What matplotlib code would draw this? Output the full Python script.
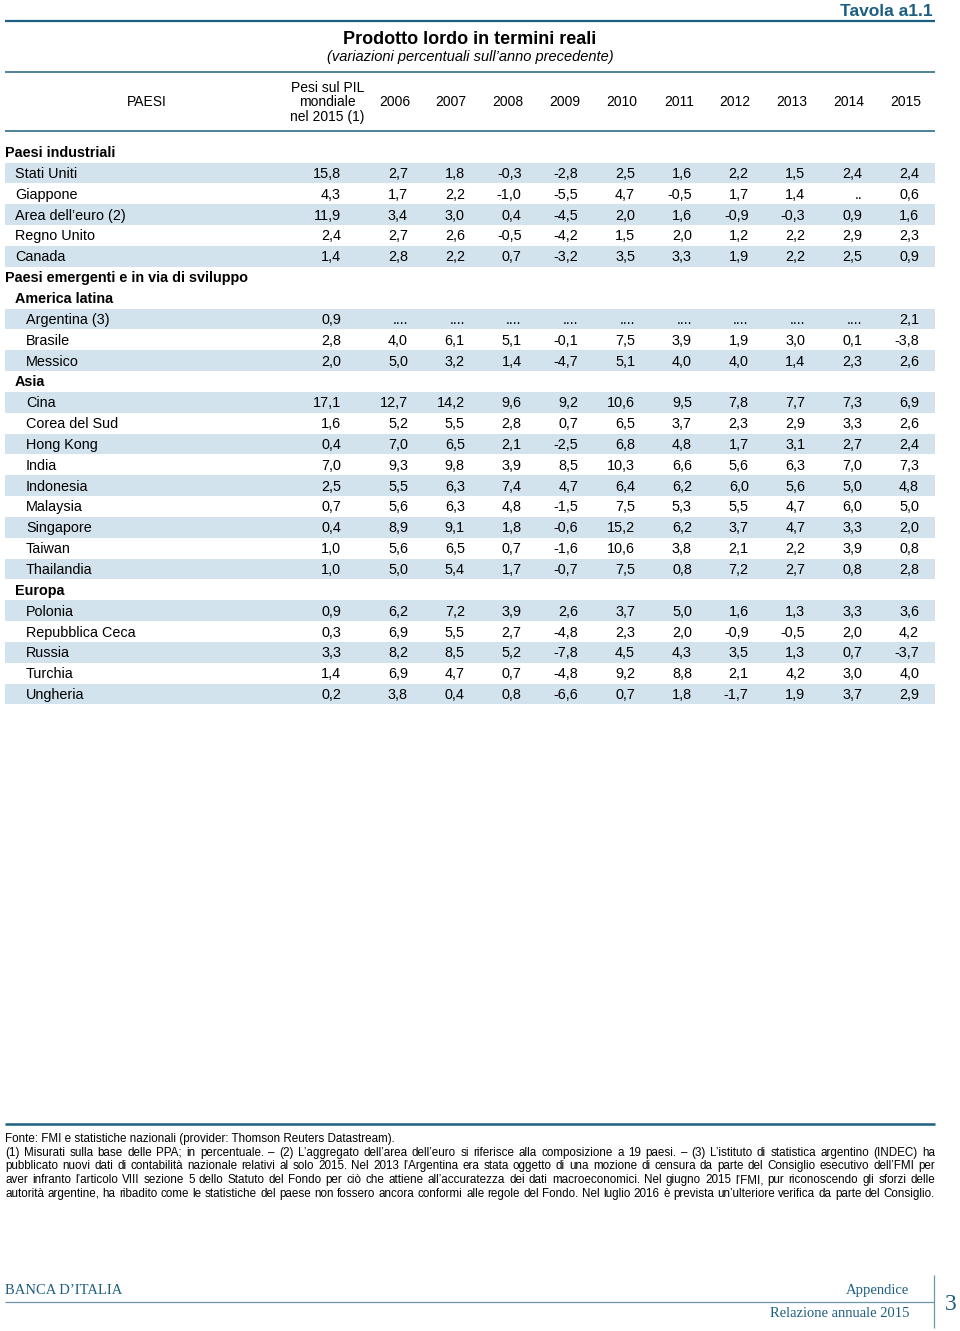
import numpy as np
import matplotlib
matplotlib.use("Agg")
import matplotlib.pyplot as plt
from matplotlib import font_manager

# --- data -------------------------------------------------------------
years = [2006, 2007, 2008, 2009, 2010, 2011, 2012, 2013, 2014, 2015]

industriali = ["Stati Uniti", "Giappone", "Area dell’euro (2)", "Regno Unito", "Canada"]
industriali_pesi = [15.8, 4.3, 11.9, 2.4, 1.4]
industriali_vals = [
    [2.7, 1.8, -0.3, -2.8, 2.5, 1.6, 2.2, 1.5, 2.4, 2.4],
    [1.7, 2.2, -1.0, -5.5, 4.7, -0.5, 1.7, 1.4, None, 0.6],
    [3.4, 3.0, 0.4, -4.5, 2.0, 1.6, -0.9, -0.3, 0.9, 1.6],
    [2.7, 2.6, -0.5, -4.2, 1.5, 2.0, 1.2, 2.2, 2.9, 2.3],
    [2.8, 2.2, 0.7, -3.2, 3.5, 3.3, 1.9, 2.2, 2.5, 0.9],
]

latina = ["Argentina (3)", "Brasile", "Messico"]
latina_pesi = [0.9, 2.8, 2.0]
latina_vals = [
    [None, None, None, None, None, None, None, None, None, 2.1],
    [4.0, 6.1, 5.1, -0.1, 7.5, 3.9, 1.9, 3.0, 0.1, -3.8],
    [5.0, 3.2, 1.4, -4.7, 5.1, 4.0, 4.0, 1.4, 2.3, 2.6],
]

asia = ["Cina", "Corea del Sud", "Hong Kong", "India", "Indonesia",
        "Malaysia", "Singapore", "Taiwan", "Thailandia"]
asia_pesi = [17.1, 1.6, 0.4, 7.0, 2.5, 0.7, 0.4, 1.0, 1.0]
asia_vals = [
    [12.7, 14.2, 9.6, 9.2, 10.6, 9.5, 7.8, 7.7, 7.3, 6.9],
    [5.2, 5.5, 2.8, 0.7, 6.5, 3.7, 2.3, 2.9, 3.3, 2.6],
    [7.0, 6.5, 2.1, -2.5, 6.8, 4.8, 1.7, 3.1, 2.7, 2.4],
    [9.3, 9.8, 3.9, 8.5, 10.3, 6.6, 5.6, 6.3, 7.0, 7.3],
    [5.5, 6.3, 7.4, 4.7, 6.4, 6.2, 6.0, 5.6, 5.0, 4.8],
    [5.6, 6.3, 4.8, -1.5, 7.5, 5.3, 5.5, 4.7, 6.0, 5.0],
    [8.9, 9.1, 1.8, -0.6, 15.2, 6.2, 3.7, 4.7, 3.3, 2.0],
    [5.6, 6.5, 0.7, -1.6, 10.6, 3.8, 2.1, 2.2, 3.9, 0.8],
    [5.0, 5.4, 1.7, -0.7, 7.5, 0.8, 7.2, 2.7, 0.8, 2.8],
]

europa = ["Polonia", "Repubblica Ceca", "Russia", "Turchia", "Ungheria"]
europa_pesi = [0.9, 0.3, 3.3, 1.4, 0.2]
europa_vals = [
    [6.2, 7.2, 3.9, 2.6, 3.7, 5.0, 1.6, 1.3, 3.3, 3.6],
    [6.9, 5.5, 2.7, -4.8, 2.3, 2.0, -0.9, -0.5, 2.0, 4.2],
    [8.2, 8.5, 5.2, -7.8, 4.5, 4.3, 3.5, 1.3, 0.7, -3.7],
    [6.9, 4.7, 0.7, -4.8, 9.2, 8.8, 2.1, 4.2, 3.0, 4.0],
    [3.8, 0.4, 0.8, -6.6, 0.7, 1.8, -1.7, 1.9, 3.7, 2.9],
]

# symbol used where a value is not available
missing = {"Giappone": "..", "Argentina (3)": "...."}

footnotes = [
    "Fonte: FMI e statistiche nazionali (provider: Thomson Reuters Datastream).",
    "(1) Misurati sulla base delle PPA; in percentuale. – (2) L’aggregato dell’area dell’euro si riferisce alla composizione a 19 paesi. – (3) L’istituto di statistica argentino (INDEC) ha",
    "pubblicato nuovi dati di contabilità nazionale relativi al solo 2015. Nel 2013 l’Argentina era stata oggetto di una mozione di censura da parte del Consiglio esecutivo dell’FMI per",
    "aver infranto l’articolo VIII sezione 5 dello Statuto del Fondo per ciò che attiene all’accuratezza dei dati macroeconomici. Nel giugno 2015 l’FMI, pur riconoscendo gli sforzi delle",
    "autorità argentine, ha ribadito come le statistiche del paese non fossero ancora conformi alle regole del Fondo. Nel luglio 2016 è prevista un’ulteriore verifica da parte del Consiglio.",
]

# --- layout -----------------------------------------------------------
installed = {f.name for f in font_manager.fontManager.ttflist}
narrow = "Liberation Sans Narrow" in installed
plt.rcParams["font.family"] = ["Liberation Sans", "DejaVu Sans"]
num_font = ["Liberation Sans Narrow", "Liberation Sans"] if narrow else ["Liberation Sans"]
num_size = 11.8 if narrow else 10.4
note_size = 9.4 if narrow else 8.4

teal = "#1d5f80"
rule = "#3f7892"
band = "#d3e3ed"

fig = plt.figure(figsize=(9.6, 13.31), dpi=100)
ax = fig.add_axes([0, 0, 1, 1])
ax.set_xlim(0, 960)
ax.set_ylim(1331, 0)
ax.axis("off")

left, right = 5, 935
col_x = [341] + list(np.linspace(408, 919, len(years)))

# title block
ax.text(933, 15.5, "Tavola a1.1", ha="right", va="baseline", fontsize=12.5,
        fontweight="bold", color=teal)
ax.plot([left, right], [20.5, 20.5], color=teal, lw=1.6, solid_capstyle="butt")
ax.text(470, 44, "Prodotto lordo in termini reali", ha="center", va="baseline",
        fontsize=13, fontweight="bold")
ax.text(470, 61, "(variazioni percentuali sull’anno precedente)", ha="center",
        va="baseline", fontsize=10.5, style="italic")
ax.plot([left, right], [71.5, 71.5], color=rule, lw=1.3, solid_capstyle="butt")

# column header
ax.text(147, 106, "PAESI", ha="center", va="baseline", fontsize=10)
for k, line in enumerate(["Pesi sul PIL", "mondiale", "nel 2015 (1)"]):
    ax.text(327.5, 91.5 + 15 * k, line, ha="center", va="baseline", fontsize=10)
for x, yr in zip(col_x[1:], years):
    ax.text(x + 2, 106, str(yr), ha="right", va="baseline", fontsize=10)
ax.plot([left, right], [131, 131], color=rule, lw=1.3, solid_capstyle="butt")

# rows
groups = [
    ("Paesi industriali", 0, None, [], [], []),
    (None, 0, 1, industriali, industriali_pesi, industriali_vals),
    ("Paesi emergenti e in via di sviluppo", 0, None, [], [], []),
    ("America latina", 1, 2, latina, latina_pesi, latina_vals),
    ("Asia", 1, 2, asia, asia_pesi, asia_vals),
    ("Europa", 1, 2, europa, europa_pesi, europa_vals),
]
indent = {0: 5, 1: 15, 2: 26}
y0, pitch = 152, 20.85


def fmt(v):
    return f"{v:.1f}".replace(".", ",")


row = 0
for title, tlevel, clevel, names, pesi, vals in groups:
    if title is not None:
        y = y0 + row * pitch
        ax.text(indent[tlevel], y + 5, title, ha="left", va="baseline",
                fontsize=10.4, fontweight="bold")
        row += 1
    for i, name in enumerate(names):
        y = y0 + row * pitch
        if i % 2 == 0:
            ax.barh(y, right - left, left=left, height=20.6, color=band, lw=0)
        ax.text(indent[clevel], y + 5, name, ha="left", va="baseline", fontsize=10.4)
        cells = [pesi[i]] + vals[i]
        for x, v in zip(col_x, cells):
            s = missing.get(name, "..") if v is None else fmt(v)
            ax.text(x, y + 5, s, ha="right", va="baseline", fontsize=num_size,
                    family=num_font)
        row += 1

# footnotes, justified to the table width
ax.plot([left, right], [1124, 1124], color=teal, lw=1.8, solid_capstyle="butt")
renderer = fig.canvas.get_renderer()
for k, line in enumerate(footnotes):
    y = 1142 + k * 13.7
    if k == 0:
        ax.text(left, y, line, ha="left", va="baseline", fontsize=note_size,
                family=num_font)
        continue
    words = line.split(" ")
    texts = [ax.text(0, y, w, ha="left", va="baseline", fontsize=note_size,
                     family=num_font) for w in words]
    widths = [t.get_window_extent(renderer).width for t in texts]
    gap = (right - left - sum(widths)) / (len(words) - 1)
    x = left
    for t, w in zip(texts, widths):
        t.set_x(x)
        x += w + gap

# page footer
serif = ["Liberation Serif", "DejaVu Serif"]
ax.text(left, 1294, "BANCA D’ITALIA", ha="left", va="baseline", fontsize=10.5,
        family=serif, color=teal)
ax.text(909, 1294, "Appendice", ha="right", va="baseline", fontsize=10.5,
        family=serif, color=teal)
ax.text(909, 1317, "Relazione annuale 2015", ha="right", va="baseline",
        fontsize=10.5, family=serif, color=teal)
ax.plot([left, 934], [1302, 1302], color="#6f95a8", lw=0.9, solid_capstyle="butt")
ax.plot([934, 934], [1275, 1328], color="#6f95a8", lw=0.9, solid_capstyle="butt")
ax.text(951, 1310, "3", ha="center", va="baseline", fontsize=17, family=serif,
        color=teal)

fig.savefig("out.png", dpi=100)
